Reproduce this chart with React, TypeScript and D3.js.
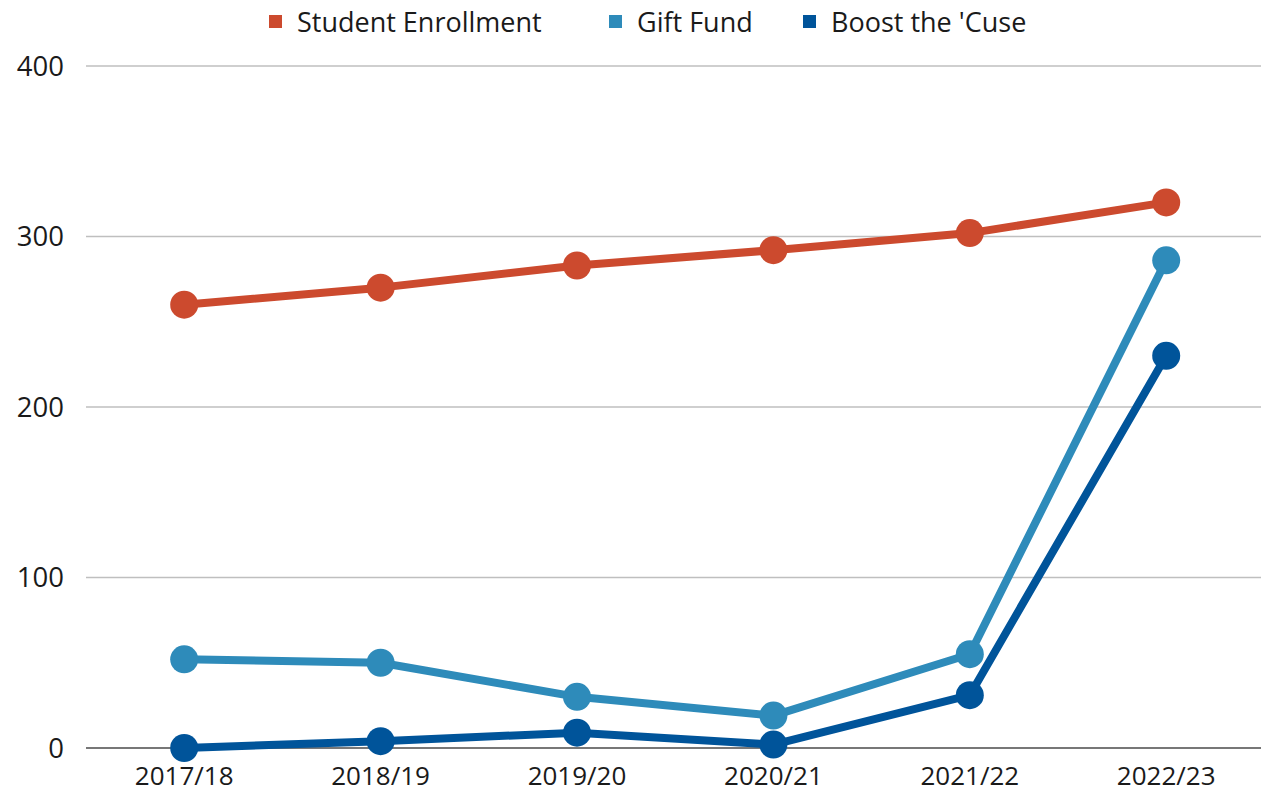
import React from "react";
import * as d3 from "d3";

const categories = ["2017/18", "2018/19", "2019/20", "2020/21", "2021/22", "2022/23"];
const studentEnrollment = [260, 270, 283, 292, 302, 320];
const giftFund = [52, 50, 30, 19, 55, 286];
const boostTheCuse = [0, 4, 9, 2, 31, 230];
const yTicks = [0, 100, 200, 300, 400];

const seriesNames = ["Student Enrollment", "Gift Fund", "Boost the 'Cuse"];
const seriesColors = ["#CC4A2E", "#2E8BBA", "#00549A"];
const seriesValues = [studentEnrollment, giftFund, boostTheCuse];

const W = 1261, H = 793;
const left = 86, right = 1261, top = 66, bottom = 748;
const FONT = "'Open Sans', 'Noto Sans', sans-serif";

export default function App() {
  const x = d3.scaleBand<string>().domain(categories).range([86, 1264.4]).padding(0);
  const y = d3.scaleLinear().domain([0, 400]).range([bottom, top]);
  const cx = (i: number) => (x(categories[i]) as number) + x.bandwidth() / 2;
  const line = d3.line<number>()
    .x((_, i) => cx(i))
    .y((d) => y(d));

  const legendX = [269, 609, 803];

  return (
    <svg width={W} height={H} style={{ position: "absolute", left: 0, top: 0, background: "#fff" }} fontFamily={FONT}>
      {yTicks.map((t) => (
        <g key={t}>
          <line x1={left} x2={right} y1={y(t)} y2={y(t)} stroke={t === 0 ? "#777" : "#BFBFBF"} strokeWidth={t === 0 ? 2 : 1.5} />
          <text x={64} y={y(t)} dy="0.36em" textAnchor="end" fontSize={27.5} fill="#1a1a1a">{t}</text>
        </g>
      ))}
      {categories.map((c, i) => (
        <text key={c} x={cx(i)} y={785} textAnchor="middle" fontSize={26} fill="#1a1a1a">{c}</text>
      ))}
      {seriesValues.map((vals, si) => (
        <g key={si}>
          <path d={line(vals) as string} fill="none" stroke={seriesColors[si]} strokeWidth={8} strokeLinejoin="round" />
          {vals.map((v, i) => (
            <circle key={i} cx={cx(i)} cy={y(v)} r={14} fill={seriesColors[si]} />
          ))}
        </g>
      ))}
      {seriesNames.map((n, i) => (
        <g key={n}>
          <rect x={legendX[i]} y={15} width={13} height={13} fill={seriesColors[i]} />
          <text x={legendX[i] + 28} y={22} dy="0.36em" fontSize={27} fill="#1a1a1a">{n}</text>
        </g>
      ))}
    </svg>
  );
}
